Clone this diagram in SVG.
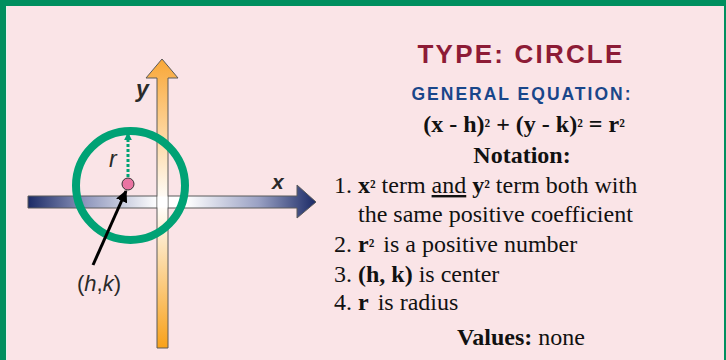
<svg xmlns="http://www.w3.org/2000/svg" width="726" height="360" viewBox="0 0 726 360">
<defs>
<linearGradient id="gx" x1="28" y1="0" x2="316" y2="0" gradientUnits="userSpaceOnUse">
<stop offset="0" stop-color="#1b2a66"/>
<stop offset="0.2" stop-color="#8f97bd"/>
<stop offset="0.45" stop-color="#ffffff"/>
<stop offset="0.55" stop-color="#ffffff"/>
<stop offset="0.8" stop-color="#9aa1c4"/>
<stop offset="1" stop-color="#1b2a66"/>
</linearGradient>
<linearGradient id="gy" x1="0" y1="59" x2="0" y2="348" gradientUnits="userSpaceOnUse">
<stop offset="0" stop-color="#f9a737"/>
<stop offset="0.25" stop-color="#fdd49a"/>
<stop offset="0.5" stop-color="#ffffff"/>
<stop offset="1" stop-color="#f8a11a"/>
</linearGradient>
<marker id="ah" viewBox="0 0 10 10" refX="9" refY="5" markerWidth="4" markerHeight="4" orient="auto" markerUnits="strokeWidth">
<path d="M0,0 L10,5 L0,10 z" fill="#000"/>
</marker>
<marker id="ag" viewBox="0 0 10 10" refX="9" refY="5" markerWidth="2.6" markerHeight="2.6" orient="auto" markerUnits="strokeWidth">
<path d="M0,0 L10,5 L0,10 z" fill="#00a275"/>
</marker>
</defs>
<style>
.sans{font-family:"Liberation Sans",Arial,sans-serif;}
.serif{font-family:"Liberation Serif","Times New Roman",serif;fill:#111;font-size:24px;}
.lbl{font-family:"Liberation Sans",Arial,sans-serif;fill:#2a2a2a;}
.ax{stroke:#5a5a5a;stroke-width:1;}
.sup{font-size:0.78em;}
</style>
<rect x="0" y="0" width="726" height="360" fill="#fae4e7"/>
<rect x="0" y="0" width="726" height="6" fill="#008f5f"/>
<rect x="0" y="0" width="6" height="360" fill="#008f5f"/>
<rect x="6" y="6" width="1" height="354" fill="#e8f3ee"/>
<rect x="724" y="0" width="2" height="360" fill="#008f5f"/>

<g id="x-axis">
<path class="ax" d="M28,196 H297 V185 L316,202 L297,218 V208 H28 Z" fill="url(#gx)"/>
</g>
<g id="y-axis">
<path class="ax" d="M157,348 V78 H146 L162,59 L178,78 H168 V348 Z" fill="url(#gy)"/>
<rect x="157.5" y="196.5" width="10" height="11" fill="#ffffff"/>
</g>
<g id="circle">
<circle cx="130.5" cy="185.5" r="54.5" fill="none" stroke="#00a275" stroke-width="8"/>
</g>
<g id="connectors">
<line x1="128" y1="177" x2="128" y2="133" stroke="#00a275" stroke-width="3" stroke-dasharray="3 2" marker-end="url(#ag)"/>
<line x1="93" y1="265" x2="126" y2="191" stroke="#000" stroke-width="3" marker-end="url(#ah)"/>
</g>
<g id="center">
<circle cx="128" cy="184" r="6" fill="#ea74a2" stroke="#333" stroke-width="1"/>
</g>
<g id="labels">
<text class="lbl" x="136" y="97" font-size="23" font-weight="bold" font-style="italic">y</text>
<text class="lbl" x="272" y="189" font-size="21" font-weight="bold" font-style="italic">x</text>
<text class="lbl" x="109" y="167" font-size="23" font-style="italic">r</text>
<text class="lbl" x="77" y="291" font-size="22">(<tspan font-style="italic">h</tspan>,<tspan font-style="italic">k</tspan>)</text>
</g>
<g id="info">
<text class="sans" x="521" y="63" text-anchor="middle" font-size="26" font-weight="bold" fill="#8d1b36" letter-spacing="2.2">TYPE: CIRCLE</text>
<text class="sans" x="522" y="100" text-anchor="middle" font-size="17.5" font-weight="bold" fill="#19468a" letter-spacing="2">GENERAL EQUATION:</text>
<text class="serif" x="524" y="132" text-anchor="middle" font-weight="bold" font-size="27">(x - h)<tspan class="sup">²</tspan> + (y - k)<tspan class="sup">²</tspan> = r<tspan class="sup">²</tspan></text>
<text class="serif" x="522" y="163" text-anchor="middle" font-weight="bold">Notation:</text>
<text class="serif" x="334" y="193">1. <tspan font-weight="bold">x<tspan class="sup">²</tspan></tspan> term <tspan text-decoration="underline">and</tspan> <tspan font-weight="bold">y<tspan class="sup">²</tspan></tspan> term both with</text>
<text class="serif" x="358" y="222">the same positive coefficient</text>
<text class="serif" x="334" y="252">2. <tspan font-weight="bold">r<tspan class="sup">²</tspan></tspan>  <tspan dx="3">is a positive number</tspan></text>
<text class="serif" x="334" y="282">3. <tspan font-weight="bold">(h, k)</tspan> is center</text>
<text class="serif" x="334" y="310">4. <tspan font-weight="bold">r</tspan> <tspan dx="3">is radius</tspan></text>
<text class="serif" x="521" y="345" text-anchor="middle"><tspan font-weight="bold">Values:</tspan> none</text>
</g>
</svg>
